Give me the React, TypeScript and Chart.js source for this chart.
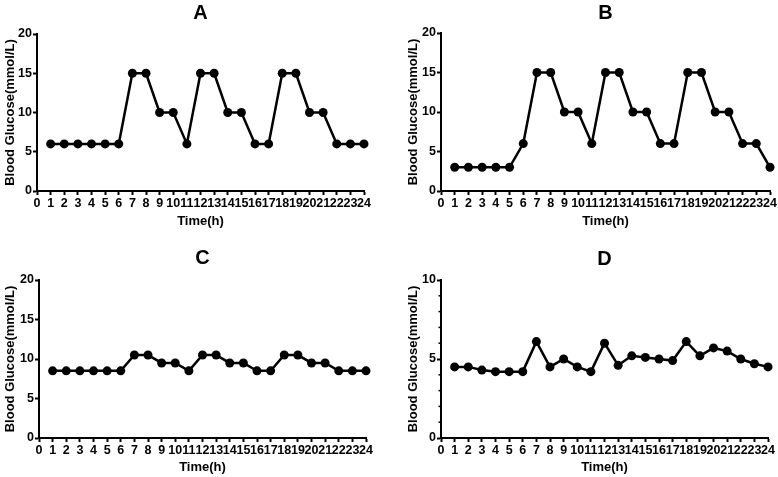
import React, { useEffect, useRef } from "react";
import { Chart, registerables } from "chart.js";

Chart.register(...registerables);
Chart.defaults.font.family = "'Liberation Sans', Arial, Helvetica, sans-serif";
Chart.defaults.color = "#000";

// ---- data ----
const hours = [1, 2, 3, 4, 5, 6, 7, 8, 9, 10, 11, 12, 13, 14, 15, 16, 17, 18, 19, 20, 21, 22, 23, 24];
const glucoseA = [6, 6, 6, 6, 6, 6, 15, 15, 10, 10, 6, 15, 15, 10, 10, 6, 6, 15, 15, 10, 10, 6, 6, 6];
const glucoseB = [3, 3, 3, 3, 3, 6, 15, 15, 10, 10, 6, 15, 15, 10, 10, 6, 6, 15, 15, 10, 10, 6, 6, 3];
const glucoseC = [8.5, 8.5, 8.5, 8.5, 8.5, 8.5, 10.5, 10.5, 9.5, 9.5, 8.5, 10.5, 10.5, 9.5, 9.5, 8.5, 8.5, 10.5, 10.5, 9.5, 9.5, 8.5, 8.5, 8.5];
const glucoseD = [4.5, 4.5, 4.3, 4.2, 4.2, 4.2, 6.1, 4.5, 5.0, 4.5, 4.2, 6.0, 4.6, 5.2, 5.1, 5.0, 4.9, 6.1, 5.2, 5.7, 5.5, 5.0, 4.7, 4.5];
const panelTitles = ["A", "B", "C", "D"];
const yMaxes = [20, 20, 20, 10];
const xMin = 0;
const xMax = 24;
const xAxisTitle = "Time(h)";
const yAxisTitle = "Blood Glucose(mmol/L)";

// ---- layout (page pixels) ----
const layouts = [
  { box: { x: 0, y: 0, w: 389, h: 238 }, plot: { l: 37, r: 364, t: 34, b: 191 }, titleY: 13, yTitleX: 10, xTitleY: 221, minor: 0 },
  { box: { x: 389, y: 0, w: 389, h: 238 }, plot: { l: 441, r: 770, t: 33, b: 191 }, titleY: 13, yTitleX: 413, xTitleY: 221, minor: 0 },
  { box: { x: 0, y: 238, w: 389, h: 239 }, plot: { l: 39, r: 366, t: 280, b: 438 }, titleY: 258, yTitleX: 10, xTitleY: 467, minor: 0 },
  { box: { x: 389, y: 238, w: 389, h: 239 }, plot: { l: 441, r: 768, t: 280, b: 438 }, titleY: 259, yTitleX: 413, xTitleY: 467, minor: 1 },
];
const seriesList = [glucoseA, glucoseB, glucoseC, glucoseD];

const minorTicksPlugin = {
  id: "minorTicks",
  afterDraw(chart: any, _args: any, opts: any) {
    if (!opts || !opts.step) return;
    const y = chart.scales.y;
    const ctx = chart.ctx;
    ctx.save();
    ctx.strokeStyle = "#000";
    ctx.lineWidth = 1.5;
    for (let v = y.min; v <= y.max + 1e-9; v += opts.step) {
      if (Math.abs(v % 5) < 1e-9) continue;
      const py = y.getPixelForValue(v);
      ctx.beginPath();
      ctx.moveTo(y.right - 2.5, py);
      ctx.lineTo(y.right, py);
      ctx.stroke();
    }
    ctx.restore();
  },
};

function Panel({ idx }: { idx: number }) {
  const ref = useRef<HTMLCanvasElement | null>(null);
  const L = layouts[idx];
  useEffect(() => {
    const { box, plot, titleY, yTitleX, xTitleY, minor } = L;
    const tfs = 20;
    const tlh = tfs * 1.2;
    const afs = 13;
    const alh = afs * 1.2;
    const tickFs = 12.5;
    const values = seriesList[idx];
    const chart = new Chart(ref.current as HTMLCanvasElement, {
      type: "line",
      data: {
        datasets: [
          {
            data: hours.map((h, i) => ({ x: h, y: values[i] })),
            borderColor: "#000",
            backgroundColor: "#000",
            borderWidth: 2.5,
            pointRadius: 4.5,
            pointBackgroundColor: "#000",
            pointBorderColor: "#000",
            pointBorderWidth: 0,
            tension: 0,
            clip: false,
          } as any,
        ],
      },
      options: {
        responsive: false,
        animation: false,
        events: [],
        layout: { padding: { left: 0, top: 0, bottom: 0, right: box.x + box.w - plot.r } },
        plugins: {
          legend: { display: false },
          tooltip: { enabled: false },
          title: {
            display: true,
            text: panelTitles[idx],
            fullSize: false,
            color: "#000",
            font: { size: tfs, weight: "bold" },
            padding: { top: titleY - box.y - tlh / 2, bottom: plot.t - titleY - tlh / 2 },
          },
          minorTicks: { step: minor },
        } as any,
        scales: {
          x: {
            type: "linear",
            min: xMin,
            max: xMax,
            afterFit: (s: any) => {
              s.height = box.y + box.h - plot.b;
            },
            ticks: { stepSize: 1, autoSkip: false, maxRotation: 0, color: "#000", font: { size: tickFs, weight: "bold" }, padding: 1 },
            grid: { drawOnChartArea: false, drawTicks: true, tickLength: 4, tickWidth: 2, tickColor: "#000" },
            border: { display: true, color: "#000", width: 2 },
            title: {
              display: true,
              text: xAxisTitle,
              color: "#000",
              font: { size: afs, weight: "bold" },
              padding: { top: 0, bottom: box.y + box.h - xTitleY - alh / 2 },
            },
          },
          y: {
            type: "linear",
            min: 0,
            max: yMaxes[idx],
            afterFit: (s: any) => {
              s.width = plot.l - box.x;
            },
            ticks: { stepSize: 5, color: "#000", font: { size: tickFs, weight: "bold" }, padding: 1 },
            grid: { drawOnChartArea: false, drawTicks: true, tickLength: 4, tickWidth: 2, tickColor: "#000" },
            border: { display: true, color: "#000", width: 2 },
            title: {
              display: true,
              text: yAxisTitle,
              color: "#000",
              font: { size: afs, weight: "bold" },
              padding: { top: yTitleX - box.x - alh / 2, bottom: 0 },
            },
          },
        } as any,
      },
      plugins: [minorTicksPlugin],
    });
    return () => chart.destroy();
  }, []);
  return (
    <canvas
      ref={ref}
      width={L.box.w}
      height={L.box.h}
      style={{ position: "absolute", left: L.box.x, top: L.box.y, width: L.box.w, height: L.box.h }}
    />
  );
}

export default function App() {
  return (
    <div style={{ position: "fixed", left: 0, top: 0, width: 778, height: 477, overflow: "hidden", background: "#fff" }}>
      {[0, 1, 2, 3].map((i) => (
        <Panel key={i} idx={i} />
      ))}
    </div>
  );
}
